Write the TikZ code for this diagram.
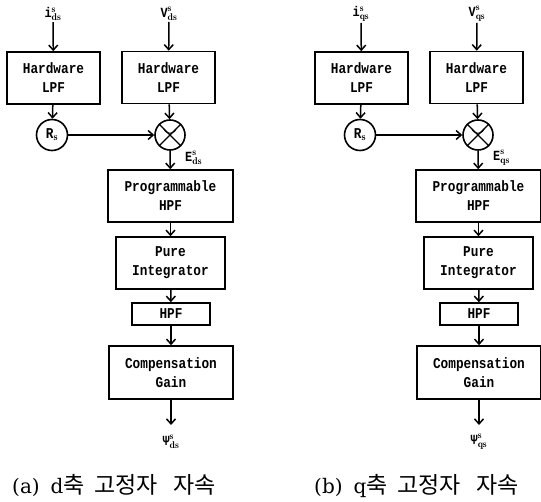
\documentclass[tikz,border=0pt]{standalone}
\usepackage{fontspec}
\usetikzlibrary{arrows.meta}
\newfontfamily\monof[FakeStretch=0.85]{Liberation Mono}
\newfontfamily\capserif{DejaVu Serif}
\newfontfamily\kr{Noto Sans CJK KR}
\newcommand\blkfont{\monof\bfseries\fontsize{15}{19}\selectfont}
\newcommand\lblfont{\monof\bfseries\fontsize{14}{16}\selectfont}
\newcommand\sigl[3]{#1$^{\scriptstyle\mathbf{#2}}_{\scriptstyle\mathbf{#3}}$}
\newcommand\fluxdiagram[5]{%
\begin{scope}[shift={(#2,0)}]
  \node[sig] (#1il) at (53,14) {\sigl{i}{s}{#3s}};
  \node[sig] (#1vl) at (169,14) {\sigl{V}{s}{#3s}};
  \node[blk,minimum width=93pt,minimum height=52pt] (#1lpfi) at (53.5,78) {Hardware\\LPF};
  \node[blk,minimum width=93pt,minimum height=52pt] (#1lpfv) at (168.5,77.5) {Hardware\\LPF};
  \node[circ,minimum size=31pt] (#1rs) at (52,135) {R$_{\scriptstyle\mathbf{s}}$};
  \node[circ,minimum size=30pt] (#1mul) at (170,135) {};
  \draw[line width=1.4pt] (#1mul.45)--(#1mul.225) (#1mul.135)--(#1mul.315);
  \draw[line width=1pt] ([shift={(-6,-6)}]#1mul.center) arc[start angle=200,end angle=340,radius=6.4pt];
  \node[sig,anchor=west] (#1el) at (184,158) {\sigl{E}{s}{#3s}};
  \node[blk,minimum width=125pt,minimum height=52pt] (#1prog) at (170.5,196) {Programmable\\HPF};
  \node[blk,minimum width=109pt,minimum height=52pt] (#1pure) at (170.5,263) {Pure\\Integrator};
  \node[blk,minimum width=78pt,minimum height=22pt] (#1hpf) at (171,314) {HPF};
  \node[blk,minimum width=124pt,minimum height=53pt] (#1comp) at (171,372.5) {Compensation\\Gain};
  \coordinate (#1out) at (171,425);
  \node[sig] (#1psi) at (171,442) {\sigl{Ψ}{s}{#3s}};
  \node[anchor=west,inner sep=0pt] (#1cap) at (#4,486) {{\capserif\fontsize{20}{24}\selectfont(#5)\hspace{11pt}#3}{\kr\fontsize{23}{24}\selectfont 축\hspace{10pt}고정자\hspace{15pt}자속}};
  \draw[arr] (#1il) -- (#1lpfi);
  \draw[arr] (#1vl) -- (#1lpfv);
  \draw[arr] (#1lpfi) -- (#1rs);
  \draw[arr] (#1lpfv) -- (#1mul);
  \draw[arr] (#1rs) -- (#1mul);
  \draw[arr] (#1mul) -- (#1prog);
  \draw[arr] (#1prog) -- (#1pure);
  \draw[arr] (#1pure) -- (#1hpf);
  \draw[arr] (#1hpf) -- (#1comp);
  \draw[arr] (#1comp) -- (#1out);
\end{scope}}
\begin{document}
\begin{tikzpicture}[x=1pt,y=-1pt,
  blk/.style={draw,line width=1.6pt,align=center,inner sep=0pt,font=\blkfont},
  circ/.style={draw,circle,line width=1.6pt,inner sep=0pt,font=\blkfont},
  sig/.style={font=\lblfont,inner sep=1pt},
  arr/.style={line width=1.5pt,-{Straight Barb[length=5pt,width=9pt,line width=1.5pt]}}]
\useasboundingbox (0,0) rectangle (541,502);
\fluxdiagram{A}{0}{d}{12}{a}
\fluxdiagram{B}{308}{q}{6}{b}
\end{tikzpicture}
\end{document}
